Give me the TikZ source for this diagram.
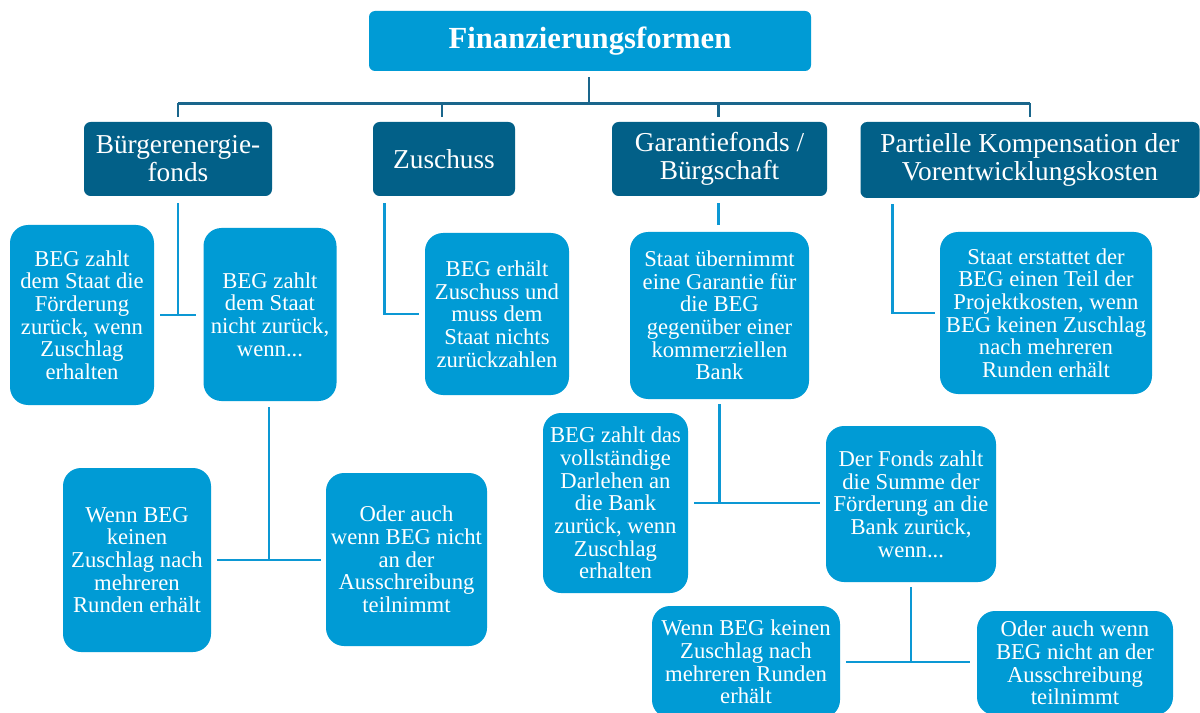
\documentclass[tikz,border=0pt]{standalone}
\usepackage{fontspec}
\setmainfont{Liberation Serif}
\usetikzlibrary{calc}
\definecolor{lblue}{RGB}{0,155,213}
\definecolor{dblue}{RGB}{2,96,136}
\definecolor{tline}{RGB}{26,102,140}
\definecolor{bline}{RGB}{12,152,212}
\tikzset{
  titlebox/.style={fill=lblue, rounded corners=4.5pt, text=white, align=center, inner sep=0pt,
    font=\fontsize{23}{26}\selectfont\bfseries},
  dbox/.style={fill=dblue, rounded corners=5pt, text=white, align=center, inner sep=0pt,
    font=\fontsize{20.5}{21}\selectfont},
  lbox/.style={fill=lblue, rounded corners=13.5pt, text=white, align=center, inner sep=0pt,
    font=\fontsize{17}{17}\selectfont},
  topline/.style={draw=tline, line width=2.2pt},
  lowline/.style={draw=bline, line width=2.2pt}
}
\begin{document}
\begin{tikzpicture}[x=0.75pt,y=-0.75pt]
\useasboundingbox (0,0) rectangle (1200,713);
\fill[white] (0,0) rectangle (1200,713);

% title
\node[titlebox, minimum width=331.5pt, minimum height=45pt] (title) at (590,41) {Finanzierungsformen};

% level 2
\node[dbox, minimum width=141pt, minimum height=55.5pt] (bf) at (178,159) {Bürgerenergie-\\fonds};
\node[dbox, minimum width=106.5pt, minimum height=55.5pt] (zu) at (444,159) {Zuschuss};
\node[dbox, minimum width=161.25pt, minimum height=55.5pt] (gf) at (719.5,159) {Garantiefonds /\\Bürgschaft};
\node[dbox, minimum width=254.25pt, minimum height=57pt] (pk) at (1030,160) {Partielle Kompensation der\\Vorentwicklungskosten};

% level 3
\node[lbox, minimum width=108pt, minimum height=135pt] (a) at (82,315) {BEG zahlt\\dem Staat die\\Förderung\\zurück, wenn\\Zuschlag\\erhalten};
\node[lbox, minimum width=99.75pt, minimum height=129.75pt] (b) at (270,314.5) {BEG zahlt\\dem Staat\\nicht zurück,\\wenn...};
\node[lbox, minimum width=108pt, minimum height=121.5pt] (c) at (497,314) {BEG erhält\\Zuschuss und\\muss dem\\Staat nichts\\zurückzahlen};
\node[lbox, minimum width=134.25pt, minimum height=125.25pt] (d) at (719.5,315.5) {Staat übernimmt\\eine Garantie für\\die BEG\\gegenüber einer\\kommerziellen\\Bank};
\node[lbox, minimum width=159pt, minimum height=121.5pt] (e) at (1046,313) {Staat erstattet der\\BEG einen Teil der\\Projektkosten, wenn\\BEG keinen Zuschlag\\nach mehreren\\Runden erhält};

% level 4
\node[lbox, minimum width=111pt, minimum height=138pt] (f) at (137,560) {Wenn BEG\\keinen\\Zuschlag nach\\mehreren\\Runden erhält};
\node[lbox, minimum width=120.75pt, minimum height=129.75pt] (g) at (406.5,559.5) {Oder auch\\wenn BEG nicht\\an der\\Ausschreibung\\teilnimmt};
\node[lbox, minimum width=108.75pt, minimum height=135pt] (h) at (615.5,503) {BEG zahlt das\\vollständige\\Darlehen an\\die Bank\\zurück, wenn\\Zuschlag\\erhalten};
\node[lbox, minimum width=127.5pt, minimum height=117pt] (i) at (911,504) {Der Fonds zahlt\\die Summe der\\Förderung an die\\Bank zurück,\\wenn...};
\node[lbox, minimum width=141pt, minimum height=84pt] (j) at (746,662) {Wenn BEG keinen\\Zuschlag nach\\mehreren Runden\\erhält};
\node[lbox, minimum width=147pt, minimum height=78pt] (k) at (1075,663) {Oder auch wenn\\BEG nicht an der\\Ausschreibung\\teilnimmt};

% top connectors
\coordinate (ts) at ($(title.south)+(-1,6)$);
\coordinate (hub) at ($(ts)+(0,26)$);
\draw[topline] (ts) -- (hub);
\draw[topline] (bf.north |- hub) -- (pk.north |- hub);
\coordinate (bfn) at ($(bf.north)+(0,-5)$);
\coordinate (zun) at ($(zu.north)+(-2,-5)$);
\coordinate (gfn) at ($(gf.north)+(-1,-5)$);
\coordinate (pkn) at ($(pk.north)+(0,-5)$);
\draw[topline] (bfn |- hub) -- (bfn);
\draw[topline] (zun |- hub) -- (zun);
\draw[topline] (gfn |- hub) -- (gfn);
\draw[topline] (pkn |- hub) -- (pkn);

% lower connectors: Buergerenergiefonds
\coordinate (bfs) at ($(bf.south)+(0,7)$);
\draw[lowline] (bfs) -- (bfs |- a.east);
\coordinate (ae) at ($(a.east)+(6,0)$);
\draw[lowline] (ae) -- ($(ae -| b.west)+(-7,0)$);
% Zuschuss
\coordinate (zus) at ($(zu.south west)+(12,7)$);
\draw[lowline] (zus) |- ($(c.west)+(-6,0)$);
% Garantiefonds
\coordinate (gfs) at ($(gf.south)+(-1,7)$);
\draw[lowline] (gfs) -- ($(gfs |- d.north)+(0,-7)$);
\coordinate (ds) at ($(d.south)+(0,5)$);
\draw[lowline] (ds) -- (ds |- h.east);
\coordinate (he) at ($(h.east)+(6,0)$);
\draw[lowline] (he) -- ($(he -| i.west)+(-6,0)$);
% Partielle
\coordinate (pks) at ($(pk.south west)+(32,6)$);
\draw[lowline] (pks) |- ($(e.west)+(-5,0)$);
% B -> F, G
\coordinate (bs) at ($(b.south)+(-1,6)$);
\draw[lowline] (bs) -- (bs |- f.east);
\coordinate (fe) at ($(f.east)+(6,0)$);
\draw[lowline] (fe) -- ($(fe -| g.west)+(-5,0)$);
% I -> J, K
\coordinate (is) at ($(i.south)+(0,5)$);
\draw[lowline] (is) -- (is |- j.east);
\coordinate (je) at ($(j.east)+(6,0)$);
\draw[lowline] (je) -- ($(je -| k.west)+(-7,0)$);
\end{tikzpicture}
\end{document}
